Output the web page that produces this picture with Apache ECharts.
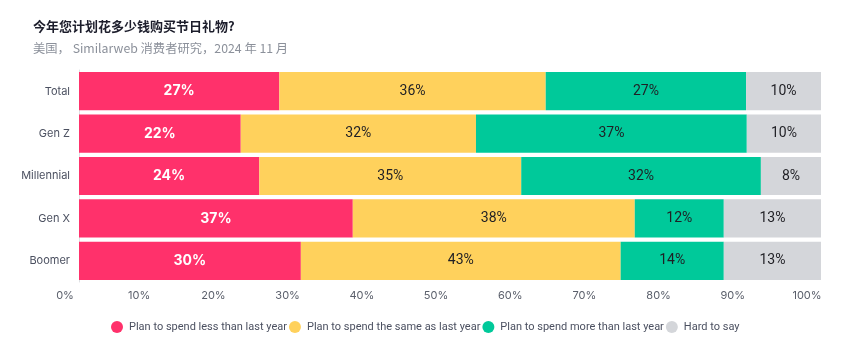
<!DOCTYPE html>
<html>
<head>
<meta charset="utf-8">
<script src="https://cdn.jsdelivr.net/npm/echarts@6/dist/echarts.min.js"></script>
<style>
  html, body { margin: 0; padding: 0; background: #fff; }
  #chart { width: 844px; height: 343px; }
</style>
</head>
<body>
<div id="chart"></div>
<script>
// Holiday gift spending intentions by generation (share of respondents, %)
const categories = ['Total', 'Gen Z', 'Millennial', 'Gen X', 'Boomer'];
const seriesNames = [
  'Plan to spend less than last year',
  'Plan to spend the same as last year',
  'Plan to spend more than last year',
  'Hard to say'
];
const spendLess = [27.0, 21.8, 24.3, 36.9, 29.9];
const spendSame = [35.9, 31.7, 35.3, 38.0, 43.1];
const spendMore = [27.0, 36.5, 32.3, 12.0, 13.9];
const hardToSay = [10.1, 10.0, 8.1, 13.1, 13.1];
const xTicks = [0, 10, 20, 30, 40, 50, 60, 70, 80, 90, 100];

const colors = ['#FF316B', '#FFD15C', '#00C99A', '#D4D6DA'];
const values = [spendLess, spendSame, spendMore, hardToSay];

const chart = echarts.init(document.getElementById('chart'), null, { renderer: 'canvas' });

const series = seriesNames.map((name, i) => ({
  name: name,
  type: 'bar',
  stack: 'total',
  data: values[i],
  barCategoryGap: '10%',
  itemStyle: { color: colors[i] },
  label: {
    show: true,
    position: 'inside',
    formatter: p => Math.round(p.value) + '%',
    color: i === 0 ? '#ffffff' : '#1f1f24',
    fontWeight: i === 0 ? 'bold' : 'normal',
    fontSize: i === 0 ? 14 : 14,
    fontFamily: i === 0 ? 'Inter, Roboto, sans-serif' : 'Roboto, Inter, sans-serif'
  },
  emphasis: { disabled: true }
}));

chart.setOption({
  animation: false,
  title: {
    text: '今年您计划花多少钱购买节日礼物?',
    subtext: '美国， Similarweb 消费者研究，2024 年 11 月',
    left: 28,
    top: 15,
    itemGap: 9,
    textStyle: {
      fontSize: 13,
      fontWeight: 'bold',
      color: '#1c1d2b',
      fontFamily: '"Noto Sans CJK SC", Inter, sans-serif'
    },
    subtextStyle: {
      fontSize: 12.3,
      color: '#8b909a',
      fontFamily: '"Noto Sans CJK SC", Inter, sans-serif'
    }
  },
  legend: {
    left: 106,
    top: 316,
    icon: 'circle',
    itemWidth: 12,
    itemHeight: 12,
    itemGap: 2,
    textStyle: {
      fontSize: 11,
      color: '#4b5060',
      padding: [0, 0, 0, 1],
      fontFamily: 'Roboto, Inter, sans-serif'
    },
    data: seriesNames
  },
  grid: { left: 79, right: 23, top: 70, bottom: 61 },
  xAxis: {
    type: 'value',
    min: 0,
    max: 100,
    interval: 10,
    axisLine: { show: false },
    axisTick: { show: false },
    splitLine: { show: false },
    axisLabel: {
      margin: 8,
      color: '#5a5f6b',
      fontSize: 11,
      padding: [0, 28, 0, 0],
      fontFamily: 'Inter, Roboto, sans-serif',
      formatter: v => (xTicks.indexOf(v) >= 0 ? v + '%' : '')
    }
  },
  yAxis: {
    type: 'category',
    data: categories,
    inverse: true,
    axisLine: { show: true, lineStyle: { color: '#dfe1e5', width: 1 } },
    axisTick: { show: false },
    axisLabel: {
      margin: 9,
      color: '#4b5060',
      fontSize: 11,
      fontFamily: 'Inter, Roboto, sans-serif'
    }
  },
  series: series
});
</script>
</body>
</html>
